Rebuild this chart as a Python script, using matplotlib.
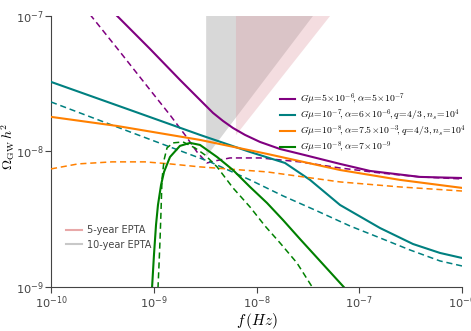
import numpy as np
import matplotlib
matplotlib.use('Agg')
import matplotlib.pyplot as plt
from matplotlib.font_manager import FontProperties
from matplotlib.lines import Line2D

# log10 of frequency [Hz] and log10 of Omega_GW h^2
pur_f = [-9.37, -9.036, -8.745, -8.550, -8.423, -8.326, -8.229, -8.112, -7.966, -7.771, -7.577, -7.382,
         -7.187, -6.895, -6.409, -6.000]
pur_o = [-6.99, -7.244, -7.472, -7.620, -7.716, -7.775, -7.827, -7.878, -7.930, -7.982, -8.018, -8.055,
         -8.092, -8.144, -8.188, -8.196]
pur_f_d = [-9.62, -9.328, -9.036, -8.842, -8.696, -8.579, -8.482, -8.404, -8.258, -7.966, -7.577, -7.187, -6.798, -6.409, -6.000]
pur_o_d = [-6.99, -7.266, -7.546, -7.731, -7.878, -8.004, -8.085, -8.070, -8.048, -8.048, -8.077, -8.122, -8.159, -8.188, -8.203]

teal_f = [-10.0, -9.231, -8.550, -8.063, -7.723, -7.479, -7.187, -6.798, -6.477, -6.214, -6.0]
teal_o = [-7.487, -7.694, -7.878, -8.004, -8.085, -8.210, -8.395, -8.565, -8.683, -8.749, -8.786]
teal_f_d = [-10.0, -9.231, -8.842, -8.453, -8.063, -7.742, -7.411, -7.090, -6.798, -6.506, -6.214, -6.0]
teal_o_d = [-7.635, -7.856, -7.967, -8.077, -8.210, -8.328, -8.439, -8.550, -8.638, -8.727, -8.808, -8.845]

orng_f = [-10.0, -9.358, -8.550, -7.898, -7.187, -6.603, -6.0]
orng_o = [-7.745, -7.812, -7.915, -8.018, -8.137, -8.210, -8.269]
orng_f_d = [-10.0, -9.737, -9.406, -9.085, -8.842, -8.550, -7.898, -7.187, -6.603, -6.0]
orng_o_d = [-8.129, -8.092, -8.077, -8.077, -8.092, -8.114, -8.151, -8.225, -8.262, -8.292]

grn_f = [-9.017, -8.998, -8.978, -8.959, -8.929, -8.900, -8.842, -8.745, -8.647, -8.550, -8.384, -8.229,
         -8.063, -7.898, -7.742, -7.577, -7.382, -7.139]
grn_o = [-9.01, -8.764, -8.542, -8.395, -8.247, -8.151, -8.041, -7.959, -7.937, -7.952, -8.041, -8.137,
         -8.262, -8.380, -8.506, -8.646, -8.808, -9.01]
grn_f_d = [-8.959, -8.949, -8.939, -8.929, -8.920, -8.900, -8.871, -8.813, -8.715, -8.599, -8.501, -8.384,
           -8.229, -8.063, -7.917, -7.771, -7.606, -7.450]
grn_o_d = [-9.01, -8.838, -8.653, -8.432, -8.210, -8.063, -7.974, -7.937, -7.930, -7.974, -8.026, -8.114,
           -8.269, -8.410, -8.550, -8.675, -8.823, -9.01]

# EPTA regions: lowest frequency (1/T), Omega at the tip, log-log slope of the edge
epta5_f, epta5_o, epta5_s = -8.20, -7.88, 0.96
epta10_f, epta10_o, epta10_s = -8.49, -8.04, 1.0

labels = [r'$G\mu\!=\!5\!\times\!10^{-6}\!, \alpha\!=\!5\!\times\!10^{-7}$',
          r'$G\mu\!=\!10^{-7}\!, \alpha\!=\!6\!\times\!10^{-6}\!, q\!=\!4/3\,, n_s\!=\!10^4$',
          r'$G\mu\!=\!10^{-8}\!, \alpha\!=\!7.5\!\times\!10^{-3}\!, q\!=\!4/3, n_s\!=\!10^4$',
          r'$G\mu\!=\!10^{-8}\!, \alpha\!=\!7\!\times\!10^{-9}$']
colors = ['#800080', '#008080', '#ff8000', '#008000']

fig = plt.figure(figsize=(4.71, 3.31), dpi=100)
ax = fig.add_axes([0.1083, 0.133, 0.8726, 0.819])

# shaded EPTA wedges
for f0, o0, sl, col, a in [(epta10_f, epta10_o, epta10_s, '#d8d8d8', 1.0),
                           (epta5_f, epta5_o, epta5_s, '#e0a0a8', 0.35)]:
    xs = np.linspace(f0, -6.5, 2)
    ax.fill_between(10**xs, 10**(o0 + sl * (xs - f0)), 1.0, color=col, alpha=a, lw=0, zorder=1)

series = [(pur_f, pur_o, pur_f_d, pur_o_d), (teal_f, teal_o, teal_f_d, teal_o_d),
          (orng_f, orng_o, orng_f_d, orng_o_d), (grn_f, grn_o, grn_f_d, grn_o_d)]
for (fs, os_, fd, od), c in zip(series, colors):
    ax.plot(10**np.array(fs), 10**np.array(os_), color=c, lw=1.5, zorder=3)
    ax.plot(10**np.array(fd), 10**np.array(od), color=c, lw=1.1, ls=(0, (4, 2.5)), zorder=3)

ax.set_xscale('log')
ax.set_yscale('log')
ax.set_xlim(1e-10, 1e-6)
ax.set_ylim(1e-9, 1e-7)
ax.minorticks_off()
for s in ['top', 'right']:
    ax.spines[s].set_visible(False)
for s in ['left', 'bottom']:
    ax.spines[s].set_color('#444444')
ax.tick_params(direction='out', length=4, color='#444444', labelcolor='#444444', labelsize=8.2, pad=1)

ax.set_xlabel(r'$f\,(Hz)$', fontsize=11, math_fontfamily='cm', labelpad=0)
ax.set_ylabel(r'$\Omega_{\rm GW}\,h^2$', fontsize=10, math_fontfamily='cm')
ax.yaxis.set_label_coords(-0.082, 0.52)

handles = [Line2D([], [], color=c, lw=1.5) for c in colors]
leg1 = ax.legend(handles, labels, loc='upper left', bbox_to_anchor=(0.545, 0.74), frameon=False,
                 prop=FontProperties(size=7, math_fontfamily='cm'), handlelength=1.6,
                 handletextpad=0.5, labelspacing=0.05, borderpad=0)
ax.add_artist(leg1)

eh = [Line2D([], [], color='#e8a8a8', lw=1.5), Line2D([], [], color='#c8c8c8', lw=1.5)]
leg2 = ax.legend(eh, ['5-year EPTA', '10-year EPTA'], loc='upper left', bbox_to_anchor=(0.025, 0.245),
                 frameon=False, fontsize=7, handlelength=1.6, handletextpad=0.5, labelspacing=0.45, borderpad=0)
for t in leg2.get_texts():
    t.set_color('#444444')

fig.savefig('out.png', dpi=100)
